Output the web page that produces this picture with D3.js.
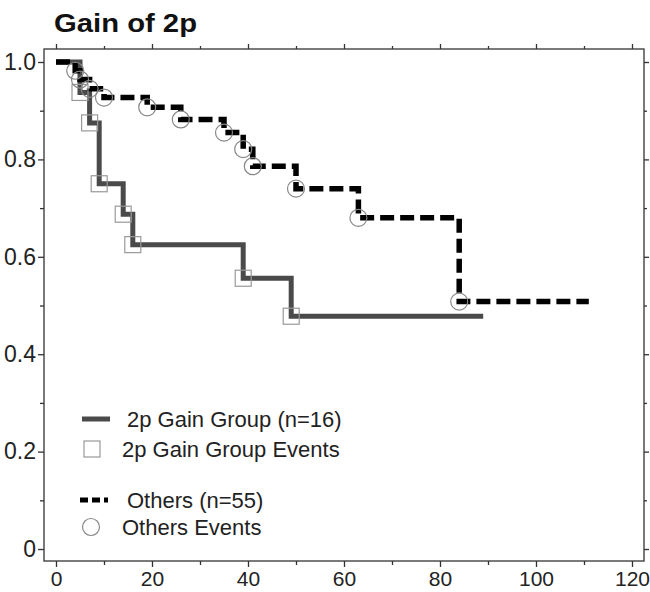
<body style="margin:0;background:#fff">
  <script src='https://d3js.org/d3.v7.min.js' charset='utf-8'></script>
  <script>

    var svgArea = { width: 650, height: 592 };
    var frame = { left: 44, right: 644, top: 49, bottom: 561 };

    // survival curves (time in months, survival fraction)
    var gainTimes = [0, 5, 7, 9, 14, 16, 39, 49, 89];
    var gainSurv  = [1, 0.9375, 0.875, 0.75, 0.6875, 0.625, 0.556, 0.478, 0.478];
    var gainEventTimes = [5, 7, 9, 14, 16, 39, 49];
    var gainEventSurv  = [0.9375, 0.875, 0.75, 0.6875, 0.625, 0.556, 0.478];

    var otherTimes = [0, 4, 5, 7, 10, 19, 26, 35, 39, 41, 50, 63, 84, 111];
    var otherSurv  = [1, 0.982, 0.964, 0.945, 0.927, 0.907, 0.882, 0.855, 0.821, 0.786, 0.740, 0.680, 0.508, 0.508];
    var otherEventTimes = [4, 5, 7, 10, 19, 26, 35, 39, 41, 50, 63, 84];
    var otherEventSurv  = [0.982, 0.964, 0.945, 0.927, 0.907, 0.882, 0.855, 0.821, 0.786, 0.740, 0.680, 0.508];

    var xTicks = [0, 20, 40, 60, 80, 100, 120];
    var xMinor = [10, 30, 50, 70, 90, 110];
    var yTicks = [0, 0.2, 0.4, 0.6, 0.8, 1.0];
    var yMinor = [0.1, 0.3, 0.5, 0.7, 0.9];

    var legendLabels = ['2p Gain Group (n=16)', '2p Gain Group Events', 'Others (n=55)', 'Others Events'];

    var font = '"Liberation Sans", Arial, sans-serif';

    const svg = d3.select('body').append('svg')
      .attr('width', svgArea['width'])
      .attr('height', svgArea['height']);

    var xScale = d3.scaleLinear()
      .domain([-2.5, 122.5])
      .range([frame.left, frame.right]);

    var yScale = d3.scaleLinear()
      .domain([-0.0246, 1.0267])
      .range([frame.bottom, frame.top]);

    // title
    svg.append('text')
      .attr('x', 54).attr('y', 32)
      .attr('font-family', font).attr('font-weight', 'bold')
      .attr('font-size', 26)
      .attr('textLength', 143)
      .attr('lengthAdjust', 'spacingAndGlyphs')
      .attr('fill', '#111')
      .text('Gain of 2p');

    // frame
    svg.append('rect')
      .attr('x', frame.left).attr('y', frame.top)
      .attr('width', frame.right - frame.left)
      .attr('height', frame.bottom - frame.top)
      .attr('fill', 'none').attr('stroke', '#333').attr('stroke-width', 1.3);

    function styleAxis(size) {
      return function(g) {
        g.select('.domain').remove();
        g.selectAll('line').attr('stroke', '#333').attr('stroke-width', 1.3);
        g.selectAll('text').attr('font-family', font).attr('font-size', size).attr('fill', '#222');
      };
    }

    var yFmt = d => d === 0 ? '0' : d.toFixed(1);

    // major and minor ticks on all four sides
    svg.append('g').attr('transform', `translate(${frame.left},0)`)
      .call(d3.axisLeft(yScale).tickValues(yTicks).tickFormat(yFmt).tickSize(6).tickPadding(2))
      .call(styleAxis(23));
    svg.append('g').attr('transform', `translate(${frame.left},0)`)
      .call(d3.axisLeft(yScale).tickValues(yMinor).tickFormat('').tickSize(4))
      .call(styleAxis(23));
    svg.append('g').attr('transform', `translate(${frame.right},0)`)
      .call(d3.axisRight(yScale).tickValues(yTicks).tickFormat('').tickSize(5))
      .call(styleAxis(23));
    svg.append('g').attr('transform', `translate(${frame.right},0)`)
      .call(d3.axisRight(yScale).tickValues(yMinor).tickFormat('').tickSize(3))
      .call(styleAxis(23));

    svg.append('g').attr('transform', `translate(0,${frame.bottom})`)
      .call(d3.axisBottom(xScale).tickValues(xTicks).tickFormat(d3.format('d')).tickSize(6).tickPadding(4))
      .call(styleAxis(21));
    svg.append('g').attr('transform', `translate(0,${frame.bottom})`)
      .call(d3.axisBottom(xScale).tickValues(xMinor).tickFormat('').tickSize(4))
      .call(styleAxis(21));
    svg.append('g').attr('transform', `translate(0,${frame.top})`)
      .call(d3.axisTop(xScale).tickValues(xTicks).tickFormat('').tickSize(5))
      .call(styleAxis(21));
    svg.append('g').attr('transform', `translate(0,${frame.top})`)
      .call(d3.axisTop(xScale).tickValues(xMinor).tickFormat('').tickSize(3))
      .call(styleAxis(21));

    var step = d3.line()
      .x(d => xScale(d[0]))
      .y(d => yScale(d[1]))
      .curve(d3.curveStepAfter);

    var gainPts = d3.zip(gainTimes, gainSurv);
    var otherPts = d3.zip(otherTimes, otherSurv);

    svg.append('path')
      .attr('d', step(gainPts))
      .attr('fill', 'none').attr('stroke', '#4a4a4a').attr('stroke-width', 5);

    svg.append('path')
      .attr('d', step(otherPts))
      .attr('fill', 'none').attr('stroke', '#000').attr('stroke-width', 5.5)
      .attr('stroke-dasharray', '14,6');

    svg.append('g')
      .selectAll('rect')
      .data(d3.zip(gainEventTimes, gainEventSurv))
      .join('rect')
        .attr('x', d => xScale(d[0]) - 8)
        .attr('y', d => yScale(d[1]) - 8)
        .attr('width', 16).attr('height', 16)
        .attr('fill', 'none').attr('stroke', '#999').attr('stroke-width', 1.2);

    svg.append('g')
      .selectAll('circle')
      .data(d3.zip(otherEventTimes, otherEventSurv))
      .join('circle')
        .attr('cx', d => xScale(d[0]))
        .attr('cy', d => yScale(d[1]))
        .attr('r', 8.5)
        .attr('fill', 'none').attr('stroke', '#888').attr('stroke-width', 1.2);

    // legend
    var legend = svg.append('g');
    var legendY = [419, 449, 500, 527];

    legend.append('line')
      .attr('x1', 82).attr('x2', 110).attr('y1', legendY[0]).attr('y2', legendY[0])
      .attr('stroke', '#4a4a4a').attr('stroke-width', 5);
    legend.append('rect')
      .attr('x', 84).attr('y', legendY[1] - 8).attr('width', 16).attr('height', 16)
      .attr('fill', 'none').attr('stroke', '#999').attr('stroke-width', 1.2);
    legend.append('line')
      .attr('x1', 80).attr('x2', 108).attr('y1', legendY[2]).attr('y2', legendY[2])
      .attr('stroke', '#000').attr('stroke-width', 5)
      .attr('stroke-dasharray', '8,4');
    legend.append('circle')
      .attr('cx', 91).attr('cy', legendY[3]).attr('r', 8.5)
      .attr('fill', 'none').attr('stroke', '#888').attr('stroke-width', 1.2);

    legend.selectAll('text')
      .data(legendLabels)
      .join('text')
        .attr('x', (d, i) => i % 2 === 0 ? 127 : 122)
        .attr('y', (d, i) => legendY[i])
        .attr('dy', '0.35em')
        .attr('font-family', font).attr('font-size', 22)
        .attr('fill', '#222')
        .text(d => d);

  </script>
</body>
